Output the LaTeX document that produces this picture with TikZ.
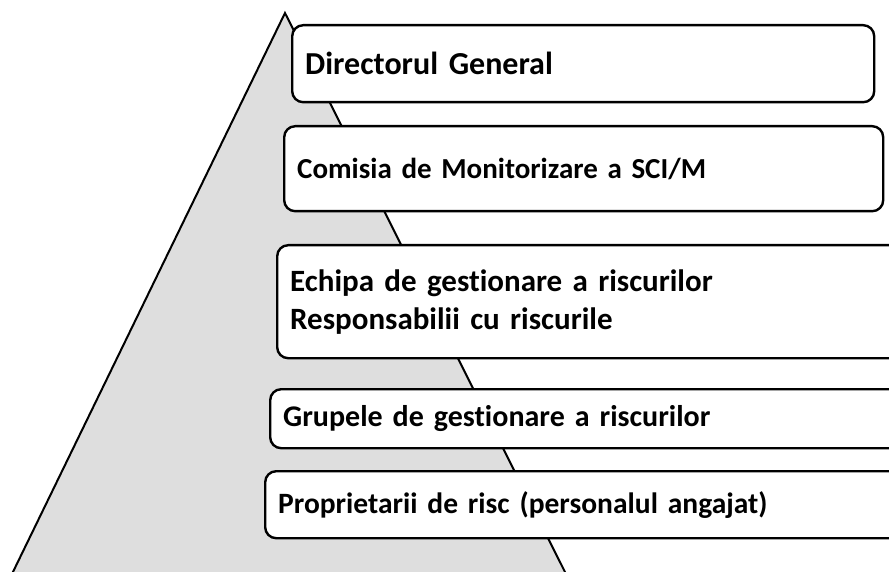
\documentclass[tikz,border=0pt]{standalone}
\usepackage{fontspec}
\setmainfont{Carlito}[Ligatures=NoCommon]

\begin{document}
\begin{tikzpicture}[x=1pt,y=-1pt,line width=2.4pt,font=\bfseries]
		\tikzstyle{tier}=[draw,fill=white,rounded corners=11pt,anchor=north west,
		align=left,inner xsep=13pt]
		
		\useasboundingbox (0,0) rectangle (889,572);
		\clip (0,0) rectangle (889,572);
		
		% pyramid behind the boxes
		\draw[fill=black!13,line width=2pt] (285,13) -- (11,576) -- (567,576) -- cycle;
		
		\node[tier,minimum width=582pt,minimum height=77pt,text width=556pt,font=\fontsize{32}{38}\selectfont\bfseries]
		(director) at (291,24)  {Directorul General};
		\node[tier,minimum width=599pt,minimum height=85pt,text width=573pt,font=\fontsize{29}{38}\selectfont\bfseries]
		(comisia)  at (283,125) {Comisia de Monitorizare a SCI/M};
		\node[tier,minimum width=650pt,minimum height=113pt,text width=624pt,font=\fontsize{31}{38}\selectfont\bfseries]
		(echipa)   at (276,244) {Echipa de gestionare a riscurilor\\Responsabilii cu riscurile};
		\node[tier,minimum width=660pt,minimum height=59pt,text width=634pt,font=\fontsize{30}{38}\selectfont\bfseries]
		(grupele)  at (269,388) {Grupele de gestionare a riscurilor};
		\node[tier,minimum width=665pt,minimum height=67pt,text width=639pt,font=\fontsize{29.5}{38}\selectfont\bfseries]
		(owners)   at (264,470) {Proprietarii de risc (personalul angajat)};
\end{tikzpicture}
\end{document}
